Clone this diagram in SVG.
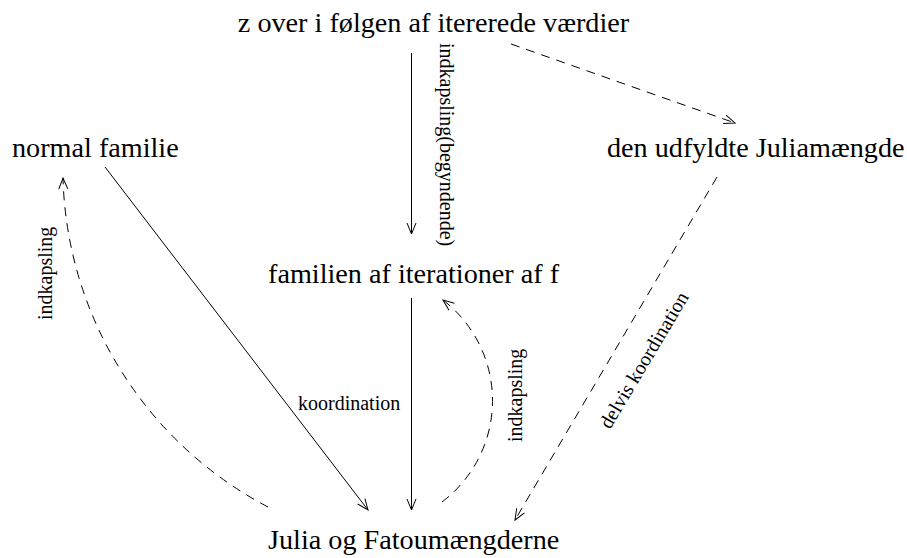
<svg xmlns="http://www.w3.org/2000/svg" width="907" height="558" viewBox="0 0 907 558">
  <style>
    .node { font-family: "Liberation Serif", "Times New Roman", serif; font-size: 28.2px; fill: #000; }
    .lbl { font-family: "Liberation Serif", "Times New Roman", serif; font-size: 20px; fill: #000; }
    .edge { fill: none; stroke: #000; stroke-width: 1; }
    .dash { stroke-dasharray: 9 7; }
  </style>
  <defs>
    <marker id="arrow" markerUnits="userSpaceOnUse" markerWidth="16" markerHeight="12" viewBox="-13 -6 16 12" refX="0" refY="0" orient="auto" overflow="visible">
      <path d="M-11,-4.5 L0,0 L-11,4.5" fill="none" stroke="#000" stroke-width="1"/>
    </marker>
  </defs>

  <rect width="907" height="558" fill="#fff"/>

  <g id="connectors">
    <!-- z-sequence to iterations: beginning encapsulation -->
    <line class="edge" x1="411.5" y1="53" x2="411.5" y2="234" marker-end="url(#arrow)"/>
    <text class="lbl" transform="translate(440,43) rotate(90)">indkapsling(begyndende)</text>

    <!-- z-sequence to filled Julia set -->
    <line class="edge dash" x1="511" y1="44" x2="735" y2="123" marker-end="url(#arrow)"/>

    <!-- normal family to Julia/Fatou sets -->
    <line class="edge" x1="105" y1="167" x2="368" y2="510" marker-end="url(#arrow)"/>
    <text class="lbl" x="298" y="410">koordination</text>

    <!-- iterations to Julia/Fatou sets -->
    <line class="edge" x1="411.5" y1="298" x2="411.5" y2="510" marker-end="url(#arrow)"/>

    <!-- Julia/Fatou back to iterations -->
    <path class="edge dash" d="M442,502 A127,127 0 0 0 443,300" marker-end="url(#arrow)"/>
    <text class="lbl" transform="translate(522,442) rotate(-90)">indkapsling</text>

    <!-- Julia/Fatou back to normal family -->
    <path class="edge dash" d="M268,507 A383,383 0 0 1 63,178" marker-end="url(#arrow)"/>
    <text class="lbl" transform="translate(52,320) rotate(-90)">indkapsling</text>

    <!-- filled Julia set to Julia/Fatou sets -->
    <line class="edge dash" x1="717" y1="177" x2="515" y2="520" marker-end="url(#arrow)"/>
    <text class="lbl" transform="translate(610,430) rotate(-59.2)">delvis koordination</text>
  </g>

  <g id="node-z">
    <text class="node" x="433.5" y="32" text-anchor="middle">z over i følgen af itererede værdier</text>
  </g>
  <g id="node-normal">
    <text class="node" x="12" y="157">normal familie</text>
  </g>
  <g id="node-filled-julia">
    <text class="node" x="607" y="157">den udfyldte Juliamængde</text>
  </g>
  <g id="node-iterations">
    <text class="node" x="268" y="283">familien af iterationer af f</text>
  </g>
  <g id="node-julia-fatou">
    <text class="node" x="268" y="549">Julia og Fatoumængderne</text>
  </g>
</svg>
